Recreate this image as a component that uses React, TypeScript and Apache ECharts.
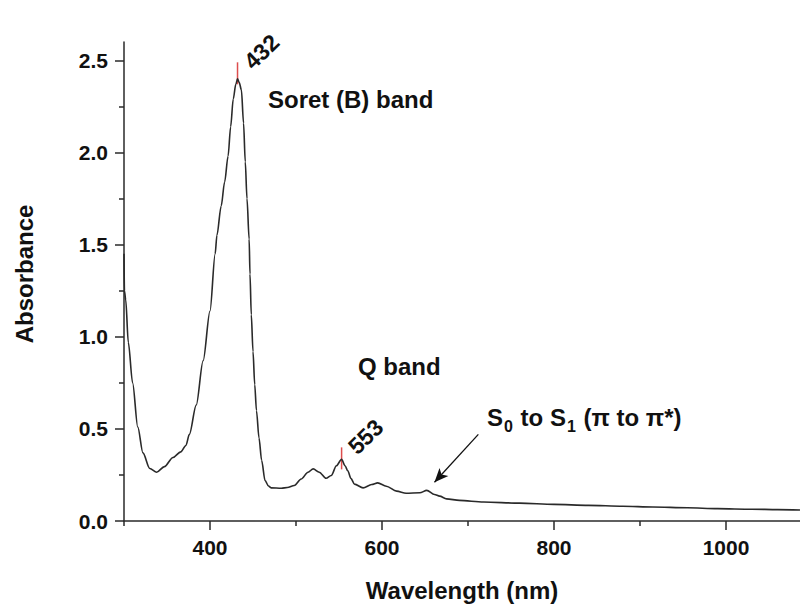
import React, { useEffect, useRef } from "react";
import * as echarts from "echarts";

// Absorption spectrum (wavelength nm, absorbance)
const wavelengths = [
  300, 300.5, 302, 305, 310, 316, 322, 330, 338, 347, 357, 366, 372, 376, 384, 392, 400, 406, 408, 413,
  417, 421, 424, 427, 430, 432, 434, 436.5, 439, 441, 443, 445.5, 446.5, 448, 450, 452, 454, 457, 460,
  464, 468, 471, 483, 490, 498, 506, 514, 520, 527, 535, 541, 547, 553, 557, 560, 564, 568, 578, 588,
  595, 605, 617, 628, 644, 652, 661, 667, 675, 690, 718, 760, 800, 840, 880, 915, 955, 990, 1030, 1060, 1086,
];
const absorbance = [
  1.45, 1.25, 1.2, 0.97, 0.75, 0.51, 0.37, 0.285, 0.265, 0.295, 0.345, 0.375, 0.41, 0.47, 0.63, 0.87, 1.14, 1.45, 1.55, 1.71,
  1.84, 1.98, 2.14, 2.29, 2.37, 2.4, 2.38, 2.34, 2.16, 1.95, 1.75, 1.53, 1.34, 1.12, 0.92, 0.74, 0.6, 0.45, 0.33,
  0.22, 0.19, 0.18, 0.178, 0.182, 0.193, 0.228, 0.265, 0.283, 0.265, 0.232, 0.247, 0.3, 0.335, 0.3, 0.274, 0.23, 0.2, 0.18, 0.198,
  0.207, 0.189, 0.162, 0.151, 0.153, 0.166, 0.144, 0.135, 0.12, 0.112, 0.103, 0.097, 0.09, 0.085, 0.08, 0.076, 0.072, 0.067, 0.064, 0.062, 0.06,
];

const peakWavelengths = [432, 553];
const peakMarkerAbs = [2.43, 0.34];

const xMajorTicks = [400, 600, 800, 1000];
const xMinorTicks = [300, 500, 700, 900];
const yMajorTicks = [0, 0.5, 1.0, 1.5, 2.0, 2.5];
const yMinorTicks = [0.25, 0.75, 1.25, 1.75, 2.25];

// arrow annotation (data coords): tail -> head
const arrowTail = [712, 0.47];
const arrowHead = [661, 0.21];

const FONT = "'Liberation Sans', Arial, sans-serif";
const AXIS_COLOR = "#2a2a2a";
const TEXT = "#111";

export default function App() {
  const ref = useRef<HTMLDivElement>(null);

  useEffect(() => {
    if (!ref.current) return;
    const chart = echarts.init(ref.current, undefined, { renderer: "svg" });

    const lineData = wavelengths.map((w, i) => [w, absorbance[i]]);
    const peakData = peakWavelengths.map((w, i) => ({ value: [w, peakMarkerAbs[i]], name: String(w) }));

    const xBase = {
      type: "value",
      min: 300,
      max: 1086,
      position: "bottom",
      splitLine: { show: false },
    };
    const yBase = {
      type: "value",
      min: 0,
      max: 2.6,
      position: "left",
      splitLine: { show: false },
    };
    const tickLabel = {
      show: true,
      margin: 16,
      fontFamily: FONT,
      fontWeight: "bold",
      fontSize: 21,
      color: TEXT,
    };

    chart.setOption({
      animation: false,
      grid: { left: 124, right: 0, top: 42, bottom: 83, containLabel: false },
      xAxis: [
        {
          ...xBase,
          axisLine: { show: true, lineStyle: { color: AXIS_COLOR, width: 1.5 } },
          axisTick: { show: true, length: 9, customValues: xMajorTicks, lineStyle: { color: AXIS_COLOR, width: 1.5 } },
          axisLabel: { ...tickLabel, customValues: xMajorTicks, formatter: (v: number) => String(v) },
          name: "Wavelength (nm)",
          nameLocation: "middle",
          nameGap: 57,
          nameTextStyle: { fontFamily: FONT, fontWeight: "bold", fontSize: 24, color: TEXT },
        },
        {
          ...xBase,
          axisLine: { show: false },
          axisTick: { show: true, length: 5, customValues: xMinorTicks, lineStyle: { color: AXIS_COLOR, width: 1.5 } },
          axisLabel: { show: false },
        },
      ],
      yAxis: [
        {
          ...yBase,
          axisLine: { show: true, lineStyle: { color: AXIS_COLOR, width: 1.5 } },
          axisTick: { show: true, length: 9, customValues: yMajorTicks, lineStyle: { color: AXIS_COLOR, width: 1.5 } },
          axisLabel: { ...tickLabel, customValues: yMajorTicks, formatter: (v: number) => v.toFixed(1) },
        },
        {
          ...yBase,
          axisLine: { show: false },
          axisTick: { show: true, length: 5, customValues: yMinorTicks, lineStyle: { color: AXIS_COLOR, width: 1.5 } },
          axisLabel: { show: false },
        },
      ],
      series: [
        {
          type: "line",
          xAxisIndex: 0,
          yAxisIndex: 0,
          data: lineData,
          showSymbol: false,
          symbol: "none",
          smooth: 0.3,
          smoothMonotone: "x",
          lineStyle: { color: "#2a2a2a", width: 1.6 },
          silent: true,
          markLine: {
            silent: true,
            symbol: ["none", "arrow"],
            symbolSize: [9, 14],
            label: { show: false },
            lineStyle: { color: "#111", width: 1.3, type: "solid" },
            data: [[{ coord: arrowTail }, { coord: arrowHead }]],
          },
        },
        {
          type: "scatter",
          xAxisIndex: 0,
          yAxisIndex: 0,
          data: peakData,
          symbol: "rect",
          symbolSize: [1.5, 22],
          itemStyle: { color: "#d42020" },
          silent: true,
          label: {
            show: true,
            formatter: (p: any) => p.name,
            position: [19, 11],
            rotate: 44,
            align: "left",
            verticalAlign: "bottom",
            fontFamily: FONT,
            fontWeight: "bold",
            fontSize: 23,
            color: TEXT,
            textBorderWidth: 0,
            opacity: 1,
          },
        },
      ],
      graphic: [
        {
          type: "text",
          x: 24,
          y: 274,
          rotation: Math.PI / 2,
          style: {
            text: "Absorbance",
            fontFamily: FONT,
            fontWeight: "bold",
            fontSize: 24,
            fill: TEXT,
            verticalAlign: "middle",
            align: "center",
          },
        },
        {
          type: "text",
          x: 268,
          y: 99,
          style: {
            text: "Soret (B) band",
            fontFamily: FONT,
            fontWeight: "bold",
            fontSize: 24,
            fill: TEXT,
            verticalAlign: "middle",
            align: "left",
          },
        },
        {
          type: "text",
          x: 358,
          y: 366,
          style: {
            text: "Q band",
            fontFamily: FONT,
            fontWeight: "bold",
            fontSize: 24,
            fill: TEXT,
            verticalAlign: "middle",
            align: "left",
          },
        },
        {
          type: "text",
          x: 487,
          y: 420,
          style: {
            text: "{m|S}{sub|0}{m| to S}{sub|1}{m| (π to π*)}",
            fill: TEXT,
            verticalAlign: "middle",
            align: "left",
            rich: {
              m: {
                fontFamily: FONT,
                fontWeight: "bold",
                fontSize: 24,
                fill: TEXT,
                verticalAlign: "bottom",
                padding: [0, 0, 5, 0],
              },
              sub: {
                fontFamily: FONT,
                fontWeight: "bold",
                fontSize: 16,
                fill: TEXT,
                verticalAlign: "bottom",
                padding: [0, 1, 0, 1],
              },
            },
          },
        },
      ],
    });

    return () => chart.dispose();
  }, []);

  return <div ref={ref} style={{ width: 800, height: 607, position: "absolute", left: 0, top: 0 }} />;
}
